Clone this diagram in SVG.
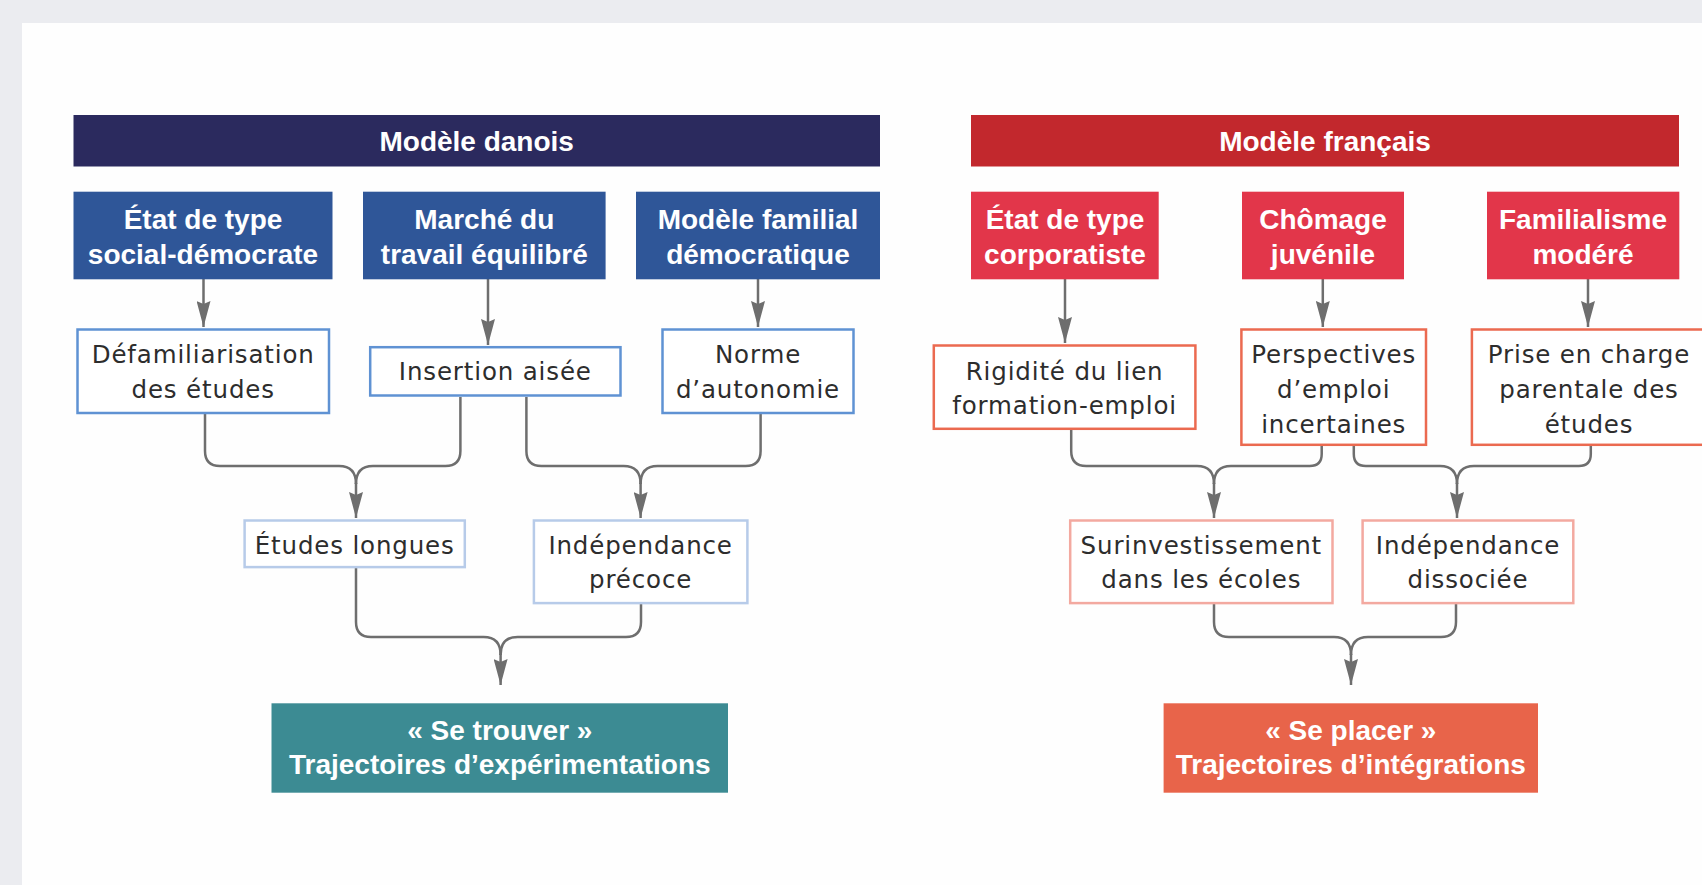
<svg xmlns="http://www.w3.org/2000/svg" width="1702" height="885" viewBox="0 0 1702 885">
<style>
.hd{font-family:"Liberation Sans",Arial,sans-serif;font-weight:bold;font-size:28px;fill:#ffffff;text-anchor:middle}
.tx{font-family:"DejaVu Sans","Liberation Sans",sans-serif;font-size:24.5px;fill:#2d2d2d;text-anchor:middle;letter-spacing:0.85px}
.b2{fill:#ffffff;stroke:#5f92d3;stroke-width:2.5}
.b3{fill:#ffffff;stroke:#b7cbe9;stroke-width:2.5}
.r2{fill:#ffffff;stroke:#eb6a50;stroke-width:2.5}
.r3{fill:#ffffff;stroke:#f3a9a0;stroke-width:2.5}
.cn{fill:none;stroke:#6e6e6e;stroke-width:2.5}
</style>
<defs>
<marker id="ah" viewBox="0 0 26 14" refX="26" refY="7" markerWidth="26" markerHeight="14" markerUnits="userSpaceOnUse" orient="auto">
<path d="M0,0 L26,7 L0,14 L3,7 z" fill="#6e6e6e"/>
</marker>
</defs>
<rect x="0" y="0" width="1702" height="885" fill="#ebecf0"/>
<rect x="22" y="23" width="1680" height="862" fill="#fefefe"/>

<g id="connectors">
<path class="cn" d="M203.5,279 V327" marker-end="url(#ah)"/>
<path class="cn" d="M488,279 V345" marker-end="url(#ah)"/>
<path class="cn" d="M758,279 V327" marker-end="url(#ah)"/>
<path class="cn" d="M1065,279 V343" marker-end="url(#ah)"/>
<path class="cn" d="M1322.8,279 V327" marker-end="url(#ah)"/>
<path class="cn" d="M1588,279 V327" marker-end="url(#ah)"/>

<path class="cn" d="M205,414 V451 Q205,466 220,466 H339 Q356,466 356,484"/>
<path class="cn" d="M460.4,397 V451 Q460.4,466 445.4,466 H373 Q356,466 356,484"/>
<path class="cn" d="M356,483 V518" marker-end="url(#ah)"/>

<path class="cn" d="M526.4,397 V451 Q526.4,466 541.4,466 H623.6 Q640.6,466 640.6,484"/>
<path class="cn" d="M760.6,414 V451 Q760.6,466 745.6,466 H657.6 Q640.6,466 640.6,484"/>
<path class="cn" d="M640.6,483 V518" marker-end="url(#ah)"/>

<path class="cn" d="M356,568 V622 Q356,637 371,637 H483.6 Q500.6,637 500.6,655"/>
<path class="cn" d="M641,604 V622 Q641,637 626,637 H517.6 Q500.6,637 500.6,655"/>
<path class="cn" d="M500.6,654 V685" marker-end="url(#ah)"/>

<path class="cn" d="M1071.2,430 V451 Q1071.2,466 1086.2,466 H1197 Q1214,466 1214,484"/>
<path class="cn" d="M1321.7,446 V454 Q1321.7,466 1309.7,466 H1231 Q1214,466 1214,484"/>
<path class="cn" d="M1214,483 V518" marker-end="url(#ah)"/>

<path class="cn" d="M1353.8,446 V454 Q1353.8,466 1365.8,466 H1440 Q1457,466 1457,484"/>
<path class="cn" d="M1590.8,446 V454 Q1590.8,466 1578.8,466 H1474 Q1457,466 1457,484"/>
<path class="cn" d="M1457,483 V518" marker-end="url(#ah)"/>

<path class="cn" d="M1214,604 V622 Q1214,637 1229,637 H1334 Q1351,637 1351,655"/>
<path class="cn" d="M1456,604 V622 Q1456,637 1441,637 H1368 Q1351,637 1351,655"/>
<path class="cn" d="M1351,654 V685" marker-end="url(#ah)"/>
</g>

<g id="modele-danois">
<rect x="73.5" y="115" width="806.5" height="51.5" fill="#2b2a5e"/>
<text class="hd" x="476.7" y="151">Modèle danois</text>
</g>
<g id="modele-francais">
<rect x="971" y="115" width="708" height="51.5" fill="#c2282d"/>
<text class="hd" x="1325" y="151">Modèle français</text>
</g>

<g id="etat-social-democrate">
<rect x="73.5" y="191.7" width="259" height="87.6" fill="#2f5698"/>
<text class="hd" x="203" y="229">État de type</text>
<text class="hd" x="203" y="263.5">social-démocrate</text>
</g>
<g id="marche-travail">
<rect x="363" y="191.7" width="242.6" height="87.6" fill="#2f5698"/>
<text class="hd" x="484.3" y="229">Marché du</text>
<text class="hd" x="484.3" y="263.5">travail équilibré</text>
</g>
<g id="modele-familial">
<rect x="636" y="191.7" width="244" height="87.6" fill="#2f5698"/>
<text class="hd" x="758" y="229">Modèle familial</text>
<text class="hd" x="758" y="263.5">démocratique</text>
</g>

<g id="etat-corporatiste">
<rect x="971" y="191.7" width="187.7" height="87.6" fill="#e2364a"/>
<text class="hd" x="1065" y="229">État de type</text>
<text class="hd" x="1065" y="263.5">corporatiste</text>
</g>
<g id="chomage-juvenile">
<rect x="1242" y="191.7" width="162" height="87.6" fill="#e2364a"/>
<text class="hd" x="1323" y="229">Chômage</text>
<text class="hd" x="1323" y="263.5">juvénile</text>
</g>
<g id="familialisme-modere">
<rect x="1487" y="191.7" width="192.3" height="87.6" fill="#e2364a"/>
<text class="hd" x="1583" y="229">Familialisme</text>
<text class="hd" x="1583" y="263.5">modéré</text>
</g>

<g id="defamiliarisation">
<rect class="b2" x="77.5" y="329.5" width="251.5" height="83.5"/>
<text class="tx" x="203.2" y="363.3">Défamiliarisation</text>
<text class="tx" x="203.2" y="398.3">des études</text>
</g>
<g id="insertion-aisee">
<rect class="b2" x="370.2" y="347.2" width="250.3" height="48.3"/>
<text class="tx" x="495.3" y="380">Insertion aisée</text>
</g>
<g id="norme-autonomie">
<rect class="b2" x="662.5" y="329.5" width="191" height="83.5"/>
<text class="tx" x="758" y="363.3">Norme</text>
<text class="tx" x="758" y="398.3">d’autonomie</text>
</g>

<g id="rigidite">
<rect class="r2" x="933.8" y="345.5" width="261.6" height="83.3"/>
<text class="tx" x="1064.6" y="380">Rigidité du lien</text>
<text class="tx" x="1064.6" y="414">formation-emploi</text>
</g>
<g id="perspectives">
<rect class="r2" x="1241.4" y="329.5" width="184.6" height="115.3"/>
<text class="tx" x="1333.7" y="363.3">Perspectives</text>
<text class="tx" x="1333.7" y="398.3">d’emploi</text>
<text class="tx" x="1333.7" y="432.7">incertaines</text>
</g>
<g id="prise-en-charge">
<rect class="r2" x="1471.9" y="329.5" width="240" height="115.3"/>
<text class="tx" x="1589" y="363.3">Prise en charge</text>
<text class="tx" x="1589" y="398.3">parentale des</text>
<text class="tx" x="1589" y="432.7">études</text>
</g>

<g id="etudes-longues">
<rect class="b3" x="244.6" y="520.5" width="220.2" height="46.6"/>
<text class="tx" x="354.7" y="554">Études longues</text>
</g>
<g id="independance-precoce">
<rect class="b3" x="533.9" y="520.5" width="213.5" height="82.6"/>
<text class="tx" x="640.6" y="554">Indépendance</text>
<text class="tx" x="640.6" y="588.3">précoce</text>
</g>

<g id="surinvestissement">
<rect class="r3" x="1070.2" y="520.5" width="262.3" height="82.6"/>
<text class="tx" x="1201.3" y="554">Surinvestissement</text>
<text class="tx" x="1201.3" y="588.3">dans les écoles</text>
</g>
<g id="independance-dissociee">
<rect class="r3" x="1362.6" y="520.5" width="210.7" height="82.6"/>
<text class="tx" x="1468" y="554">Indépendance</text>
<text class="tx" x="1468" y="588.3">dissociée</text>
</g>

<g id="se-trouver">
<rect x="271.5" y="703.3" width="456.5" height="89.4" fill="#3c8b93"/>
<text class="hd" x="499.8" y="740">« Se trouver »</text>
<text class="hd" x="499.8" y="774">Trajectoires d’expérimentations</text>
</g>
<g id="se-placer">
<rect x="1163.6" y="703.3" width="374.4" height="89.4" fill="#e8644a"/>
<text class="hd" x="1350.8" y="740">« Se placer »</text>
<text class="hd" x="1350.8" y="774">Trajectoires d’intégrations</text>
</g>
</svg>
